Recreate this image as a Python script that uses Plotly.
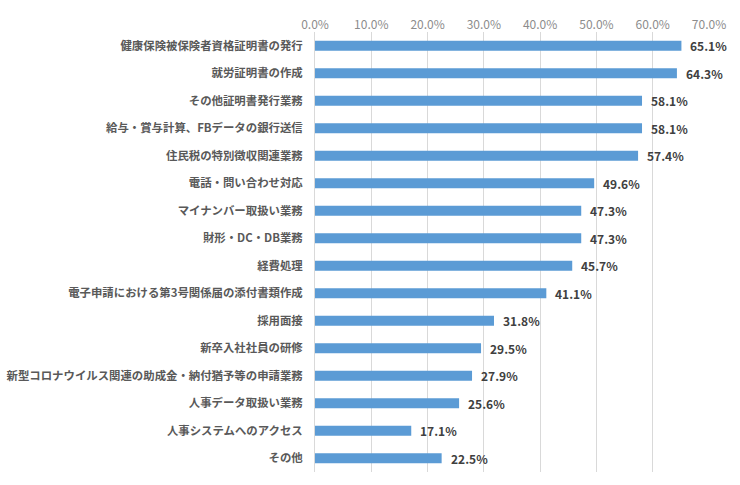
import plotly.graph_objects as go

categories = [
    "健康保険被保険者資格証明書の発行",
    "就労証明書の作成",
    "その他証明書発行業務",
    "給与・賞与計算、FBデータの銀行送信",
    "住民税の特別徴収関連業務",
    "電話・問い合わせ対応",
    "マイナンバー取扱い業務",
    "財形・DC・DB業務",
    "経費処理",
    "電子申請における第3号関係届の添付書類作成",
    "採用面接",
    "新卒入社社員の研修",
    "新型コロナウイルス関連の助成金・納付猶予等の申請業務",
    "人事データ取扱い業務",
    "人事システムへのアクセス",
    "その他",
]
values = [0.651, 0.643, 0.581, 0.581, 0.574, 0.496, 0.473, 0.473, 0.457,
          0.411, 0.318, 0.295, 0.279, 0.256, 0.171, 0.225]
tick_values = [0, 0.1, 0.2, 0.3, 0.4, 0.5, 0.6, 0.7]

FONT = "Noto Sans CJK JP"

fig = go.Figure(go.Bar(
    x=values, y=categories, orientation="h",
    marker=dict(color="#5B9BD5", line=dict(color="#5B9BD5", width=0)),
    width=0.37,
    hoverinfo="skip",
))

for c, v in zip(categories, values):
    fig.add_annotation(x=v, y=c, text=f"{v*100:.1f}%", showarrow=False,
                       xanchor="left", xshift=7,
                       font=dict(family=FONT, size=12, color="#404040", weight="bold"))

fig.update_layout(
    width=740, height=485,
    margin=dict(l=315, r=31, t=32, b=13, autoexpand=False),
    paper_bgcolor="white", plot_bgcolor="white",
    showlegend=False,
    font=dict(family=FONT),
    bargap=0.63,
)
fig.update_xaxes(
    side="top", range=[0, 0.7], tickvals=tick_values,
    tickformat=".1%", showgrid=True, gridcolor="#D9D9D9", gridwidth=1,
    zeroline=False, showline=False, ticks="",
    tickfont=dict(family=FONT, size=12, color="#8C8C8C"),
    automargin=False, fixedrange=True,
)
fig.update_yaxes(
    autorange="reversed", showgrid=False, zeroline=False,
    showline=True, linecolor="#D9D9D9", linewidth=1, ticks="",
    ticklabelstandoff=9,
    tickfont=dict(family=FONT, size=11.4, color="#595959", weight="bold"),
    automargin=False, fixedrange=True,
)

fig.write_html("out.html", config={"displayModeBar": False},
               post_script="document.body.style.margin='0';document.body.style.padding='0';")
